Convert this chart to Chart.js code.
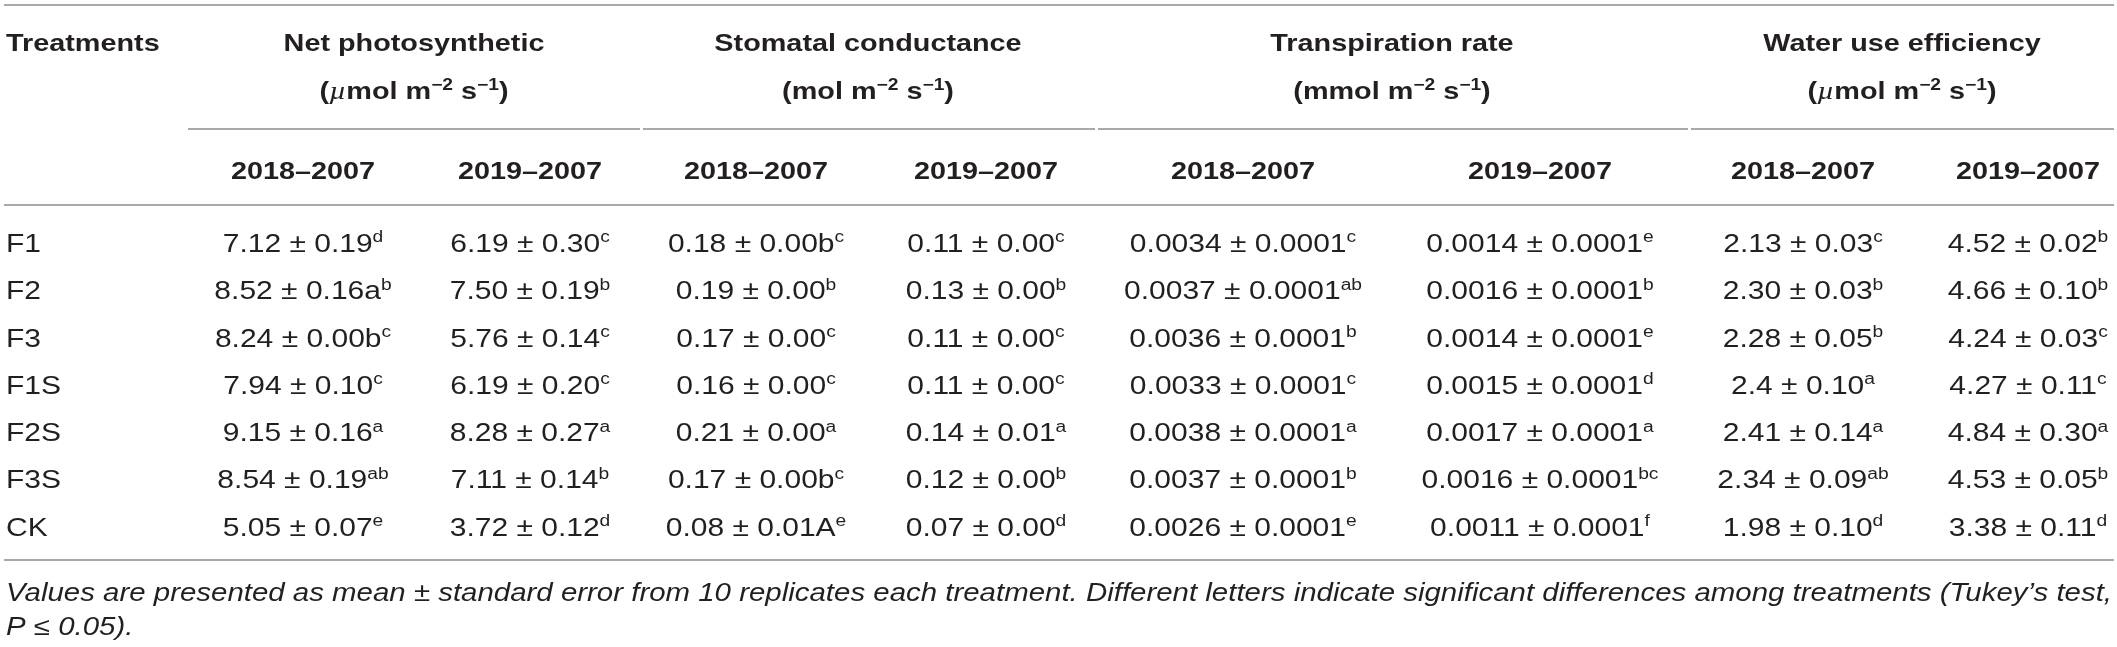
<!doctype html>
<html>

<head>
    <title>Leaf gas exchange table</title>
    <script src="https://cdn.jsdelivr.net/npm/chart.js@4/dist/chart.umd.min.js"></script>
    <style>
        html, body { margin: 0; padding: 0; background: #fff; overflow: hidden; }
        canvas { display: block; }
    </style>
</head>

<body>
    <canvas id="canvas" width="2117" height="647"></canvas>
    <script>
        var treatments = ['F1', 'F2', 'F3', 'F1S', 'F2S', 'F3S', 'CK'];
        var groupTitles = ['Net photosynthetic', 'Stomatal conductance', 'Transpiration rate', 'Water use efficiency'];
        var groupUnits = ['µmol', 'mol', 'mmol', 'µmol'];
        var periods = ['2018–2007', '2019–2007'];

        var netPs2018 = ['7.12', '8.52', '8.24', '7.94', '9.15', '8.54', '5.05'];
        var netPs2018Se = ['0.19', '0.16a', '0.00b', '0.10', '0.16', '0.19', '0.07'];
        var netPs2018Sig = ['d', 'b', 'c', 'c', 'a', 'ab', 'e'];
        var netPs2019 = ['6.19', '7.50', '5.76', '6.19', '8.28', '7.11', '3.72'];
        var netPs2019Se = ['0.30', '0.19', '0.14', '0.20', '0.27', '0.14', '0.12'];
        var netPs2019Sig = ['c', 'b', 'c', 'c', 'a', 'b', 'd'];

        var gs2018 = ['0.18', '0.19', '0.17', '0.16', '0.21', '0.17', '0.08'];
        var gs2018Se = ['0.00b', '0.00', '0.00', '0.00', '0.00', '0.00b', '0.01A'];
        var gs2018Sig = ['c', 'b', 'c', 'c', 'a', 'c', 'e'];
        var gs2019 = ['0.11', '0.13', '0.11', '0.11', '0.14', '0.12', '0.07'];
        var gs2019Se = ['0.00', '0.00', '0.00', '0.00', '0.01', '0.00', '0.00'];
        var gs2019Sig = ['c', 'b', 'c', 'c', 'a', 'b', 'd'];

        var tr2018 = ['0.0034', '0.0037', '0.0036', '0.0033', '0.0038', '0.0037', '0.0026'];
        var tr2018Se = ['0.0001', '0.0001', '0.0001', '0.0001', '0.0001', '0.0001', '0.0001'];
        var tr2018Sig = ['c', 'ab', 'b', 'c', 'a', 'b', 'e'];
        var tr2019 = ['0.0014', '0.0016', '0.0014', '0.0015', '0.0017', '0.0016', '0.0011'];
        var tr2019Se = ['0.0001', '0.0001', '0.0001', '0.0001', '0.0001', '0.0001', '0.0001'];
        var tr2019Sig = ['e', 'b', 'e', 'd', 'a', 'bc', 'f'];

        var wue2018 = ['2.13', '2.30', '2.28', '2.4', '2.41', '2.34', '1.98'];
        var wue2018Se = ['0.03', '0.03', '0.05', '0.10', '0.14', '0.09', '0.10'];
        var wue2018Sig = ['c', 'b', 'b', 'a', 'a', 'ab', 'd'];
        var wue2019 = ['4.52', '4.66', '4.24', '4.27', '4.84', '4.53', '3.38'];
        var wue2019Se = ['0.02', '0.10', '0.03', '0.11', '0.30', '0.05', '0.11'];
        var wue2019Sig = ['b', 'b', 'c', 'c', 'a', 'b', 'd'];

        var footnote1 = 'Values are presented as mean ± standard error from 10 replicates each treatment. Different letters indicate significant differences among treatments (Tukey’s test,';
        var footnote2 = 'P ≤ 0.05).';

        var columns = [
            [netPs2018, netPs2018Se, netPs2018Sig],
            [netPs2019, netPs2019Se, netPs2019Sig],
            [gs2018, gs2018Se, gs2018Sig],
            [gs2019, gs2019Se, gs2019Sig],
            [tr2018, tr2018Se, tr2018Sig],
            [tr2019, tr2019Se, tr2019Sig],
            [wue2018, wue2018Se, wue2018Sig],
            [wue2019, wue2019Se, wue2019Sig]
        ];

        // ---- layout (table units: x in px across, y in row steps) ----
        var W = 2117, H = 647;
        var ROW0 = 243, ROW_STEP = 47.3;
        var colCenter = [303, 530, 756, 986, 1243, 1540, 1803, 2028];
        var groupCenter = [414, 868, 1392, 1902];
        var groupRule = [[188, 640], [643, 1095], [1098, 1688], [1691, 2114]];
        var LEFT = 6, RIGHT = 2112;
        function rowAt(px) { return (px - ROW0) / ROW_STEP; }
        var yTopRule = rowAt(5), yTitle = rowAt(42), yUnits = rowAt(90), yGroupRule = rowAt(129),
            ySub = rowAt(170), yHeadRule = rowAt(205), yBottomRule = rowAt(560),
            yNote1 = rowAt(592), yNote2 = rowAt(626);

        var SX = 1.2;            // horizontal stretch of the typeset glyphs
        var INK = '#231f20', RULE = '#a9a9a9';
        var SANS = '"Liberation Sans", Arial, sans-serif';

        function drawRuns(ctx, runs, x, y, align, sx) {
            sx = sx || SX;
            var total = 0;
            runs.forEach(function (r) {
                ctx.font = r.font;
                r.w = ctx.measureText(r.text).width * sx;
                total += r.w;
            });
            var cx = align === 'center' ? x - total / 2 : x;
            runs.forEach(function (r) {
                ctx.save();
                ctx.font = r.font;
                ctx.translate(cx, y - (r.raise || 0));
                ctx.scale(sx, 1);
                ctx.fillText(r.text, 0, 0);
                ctx.restore();
                cx += r.w;
            });
        }

        function cellRuns(mean, se, sig) {
            return [
                { text: mean + ' ± ' + se, font: '25px ' + SANS },
                { text: sig, font: '16px ' + SANS, raise: 9.5 }
            ];
        }

        function unitRuns(unit) {
            var b = 'bold 24px ' + SANS, bs = 'bold 16px ' + SANS;
            var runs = [{ text: '(', font: b }];
            if (unit.charAt(0) === 'µ') {
                runs.push({ text: 'µ', font: 'italic 25px "Liberation Serif", serif' });
                runs.push({ text: unit.slice(1) + ' m', font: b });
            } else {
                runs.push({ text: unit + ' m', font: b });
            }
            runs.push({ text: '−2', font: bs, raise: 9 });
            runs.push({ text: ' s', font: b });
            runs.push({ text: '−1', font: bs, raise: 9 });
            runs.push({ text: ')', font: b });
            return runs;
        }

        var tablePlugin = {
            id: 'tableText',
            afterDatasetsDraw: function (chart) {
                var ctx = chart.ctx, xs = chart.scales.x, ys = chart.scales.y;
                var cap = 0.358; // half cap height in em, to centre text on a row
                ctx.save();
                ctx.fillStyle = INK;
                ctx.textBaseline = 'alphabetic';

                // rules
                ctx.strokeStyle = RULE;
                ctx.lineWidth = 2;
                function rule(x0, x1, v) {
                    var py = Math.round(ys.getPixelForValue(v));
                    ctx.beginPath();
                    ctx.moveTo(xs.getPixelForValue(x0), py);
                    ctx.lineTo(xs.getPixelForValue(x1), py);
                    ctx.stroke();
                }
                rule(LEFT - 2, RIGHT + 2, yTopRule);
                groupRule.forEach(function (g) { rule(g[0], g[1], yGroupRule); });
                rule(LEFT - 2, RIGHT + 2, yHeadRule);
                rule(LEFT - 2, RIGHT + 2, yBottomRule);

                // header
                var bold = 'bold 24px ' + SANS;
                drawRuns(ctx, [{ text: 'Treatments', font: bold }], xs.getPixelForValue(LEFT), ys.getPixelForValue(yTitle) + 24 * cap, 'left');
                groupTitles.forEach(function (t, g) {
                    var gx = xs.getPixelForValue(groupCenter[g]);
                    drawRuns(ctx, [{ text: t, font: bold }], gx, ys.getPixelForValue(yTitle) + 24 * cap, 'center');
                    drawRuns(ctx, unitRuns(groupUnits[g]), gx, ys.getPixelForValue(yUnits) + 24 * cap, 'center');
                });
                colCenter.forEach(function (c, i) {
                    drawRuns(ctx, [{ text: periods[i % 2], font: bold }], xs.getPixelForValue(c), ys.getPixelForValue(ySub) + 24 * cap, 'center');
                });

                // body: one scatter dataset per column, text drawn at each point element
                var labelMeta = chart.getDatasetMeta(0);
                labelMeta.data.forEach(function (pt, i) {
                    drawRuns(ctx, [{ text: treatments[i], font: '25px ' + SANS }], pt.x, pt.y + 25 * cap, 'left');
                });
                columns.forEach(function (col, c) {
                    var meta = chart.getDatasetMeta(c + 1);
                    meta.data.forEach(function (pt, i) {
                        drawRuns(ctx, cellRuns(col[0][i], col[1][i], col[2][i]), pt.x, pt.y + 25 * cap, 'center');
                    });
                });

                // footnote, first line justified
                var nf = 'italic 25px ' + SANS;
                ctx.font = nf;
                var words = footnote1.split(' ');
                var ww = words.map(function (w) { return ctx.measureText(w).width; });
                var sum = ww.reduce(function (a, b) { return a + b; }, 0);
                var space = ctx.measureText(' ').width;
                var target = xs.getPixelForValue(RIGHT) - xs.getPixelForValue(LEFT);
                var sx = SX, gap;
                if ((sum + space * (words.length - 1)) * SX > target) {
                    sx = target / (sum + space * (words.length - 1));
                    gap = space * sx;
                } else {
                    gap = (target - sum * SX) / (words.length - 1);
                }
                var nx = xs.getPixelForValue(LEFT), ny1 = ys.getPixelForValue(yNote1) + 25 * cap;
                words.forEach(function (w, i) {
                    drawRuns(ctx, [{ text: w, font: nf }], nx, ny1, 'left', sx);
                    nx += ww[i] * sx + gap;
                });
                drawRuns(ctx, [{ text: footnote2, font: nf }], xs.getPixelForValue(LEFT), ys.getPixelForValue(yNote2) + 25 * cap, 'left', sx);
                ctx.restore();
            }
        };

        var datasets = [{
            label: 'Treatments',
            data: treatments.map(function (t, i) { return { x: LEFT, y: i }; }),
            pointRadius: 0
        }];
        columns.forEach(function (col, c) {
            datasets.push({
                label: groupTitles[Math.floor(c / 2)] + ' ' + periods[c % 2],
                data: col[0].map(function (v, i) { return { x: colCenter[c], y: i }; }),
                pointRadius: 0
            });
        });

        window.onload = function () {
            var ctx = document.getElementById('canvas').getContext('2d');
            window.myTable = new Chart(ctx, {
                type: 'scatter',
                data: { datasets: datasets },
                plugins: [tablePlugin],
                options: {
                    responsive: false,
                    animation: false,
                    devicePixelRatio: 1,
                    layout: { padding: 0 },
                    events: [],
                    plugins: {
                        legend: { display: false },
                        title: { display: false },
                        tooltip: { enabled: false }
                    },
                    scales: {
                        x: { type: 'linear', display: false, min: 0, max: W },
                        y: { type: 'linear', display: false, reverse: true, min: rowAt(0), max: rowAt(H) }
                    }
                }
            });
        };
    </script>
</body>

</html>
